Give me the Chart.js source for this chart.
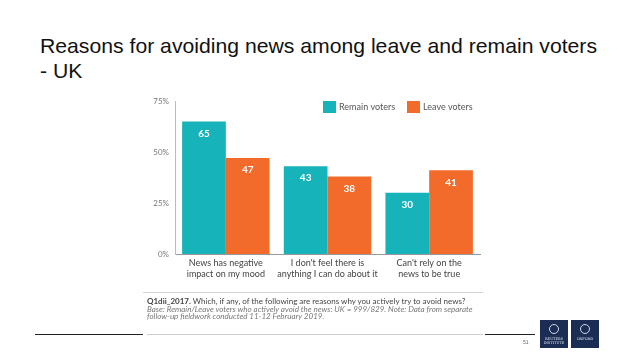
<!DOCTYPE html>
<html>
<head>
<meta charset="utf-8">
<script src="https://cdn.jsdelivr.net/npm/chart.js@4.4.1/dist/chart.umd.min.js"></script>
<style>
  html, body { margin: 0; padding: 0; background: #fff; }
  body { width: 638px; height: 359px; position: relative; overflow: hidden; font-family: "Liberation Sans", Arial, sans-serif; }
  #title { position: absolute; left: 40px; top: 33px; font-size: 21px; line-height: 25px; color: #111; white-space: nowrap; transform-origin: 0 0; }
  #wrap { position: absolute; left: 0; top: 0; width: 638px; height: 359px; }
  .line { position: absolute; height: 1px; }
  #note { position: absolute; left: 147px; top: 298px; font-family: Lato, "Open Sans", sans-serif; font-size: 8px; line-height: 7.5px; color: #444; white-space: nowrap; }
  #note i { color: #777; }
  #pnum { position: absolute; left: 523px; top: 339px; font-size: 5px; color: #666; }
  .logo { position: absolute; top: 320px; width: 28px; height: 28px; background: #1b2d55; color: #dfe4ee; font-family: "DejaVu Serif", serif; font-size: 3.5px; line-height: 4px; text-align: center; }
  .logo .crest { width: 8px; height: 8px; border-radius: 50%; border: 1px solid #cfd6e4; margin: 4px auto 3px; }
</style>
</head>
<body>
<div id="title"><span id="t1">Reasons for avoiding news among leave and remain voters</span><br>- UK</div>
<div class="line" style="left:35px; top:334px; width:500px; background:#222;"></div>
<div id="wrap"><canvas id="c" width="638" height="359"></canvas></div>
<div class="line" style="left:143px; top:292px; width:340px; background:#d4d4d4;"></div>
<div class="line" style="left:143px; top:333px; width:342px; height:3px; background:#fff;"></div>
<div class="line" style="left:147px; top:334px; width:336px; background:#cfcfcf;"></div>
<div id="note"><b>Q1dii_2017.</b> Which, if any, of the following are reasons why you actively try to avoid news?<br><i>Base: Remain/Leave voters who actively avoid the news: UK = 999/829. Note: Data from separate<br>follow-up fieldwork conducted 11-12 February 2019.</i></div>
<div id="pnum">51</div>
<div class="logo" style="left:540px;"><div class="crest"></div>REUTERS<br>INSTITUTE</div>
<div class="logo" style="left:571px;"><div class="crest"></div>OXFORD</div>
<script>
const categories = [
  ["News has negative", "impact on my mood"],
  ["I don't feel there is", "anything I can do about it"],
  ["Can't rely on the", "news to be true"]
];
const seriesNames = ["Remain voters", "Leave voters"];
const remainValues = [65, 43, 30];
const leaveValues = [47, 38, 41];
const yTicks = [0, 25, 50, 75];
const colors = ["#16b3bb", "#f26b2b"];

const FONT = "Lato, 'Open Sans', sans-serif";

// fit title's first line to the reference width
(function () {
  const w = document.getElementById("t1").getBoundingClientRect().width;
  if (w > 0) document.getElementById("title").style.transform = "scaleX(" + (557 / w) + ")";
})();

const valueLabels = {
  id: "valueLabels",
  afterDatasetsDraw(chart) {
    const ctx = chart.ctx;
    ctx.save();
    ctx.fillStyle = "#fff";
    ctx.font = "bold 10px " + FONT;
    ctx.textAlign = "center";
    ctx.textBaseline = "middle";
    chart.data.datasets.forEach((ds, i) => {
      chart.getDatasetMeta(i).data.forEach((bar, j) => {
        ctx.fillText(String(ds.data[j]), bar.x, bar.y + 12);
      });
    });
    ctx.restore();
  }
};

const customLegend = {
  id: "customLegend",
  afterDraw(chart) {
    const ctx = chart.ctx;
    ctx.save();
    ctx.font = "9px " + FONT;
    ctx.textBaseline = "middle";
    ctx.textAlign = "left";
    const starts = [323, 407];
    chart.data.datasets.forEach((ds, i) => {
      const x = starts[i];
      ctx.fillStyle = ds.backgroundColor;
      ctx.fillRect(x, 101, 13, 12);
      ctx.fillStyle = "#555";
      ctx.fillText(ds.label, x + 16, 107.5);
    });
    ctx.restore();
  }
};

new Chart(document.getElementById("c"), {
  type: "bar",
  data: {
    labels: categories,
    datasets: [
      { label: seriesNames[0], data: remainValues, backgroundColor: colors[0] },
      { label: seriesNames[1], data: leaveValues, backgroundColor: colors[1] }
    ]
  },
  options: {
    responsive: false,
    animation: false,
    events: [],
    layout: { padding: { left: 140, right: 158, top: 101, bottom: 75 } },
    plugins: { legend: { display: false }, tooltip: { enabled: false } },
    datasets: { bar: { categoryPercentage: 0.86, barPercentage: 1.0 } },
    scales: {
      x: {
        grid: { display: false, drawTicks: false },
        border: { display: true, color: "#999", width: 1 },
        ticks: { color: "#444", font: { family: FONT, size: 9 }, padding: 4, maxRotation: 0, autoSkip: false },
        afterFit(s) { s.height = 30; }
      },
      y: {
        min: 0, max: 75,
        grid: { display: false, drawTicks: false },
        border: { display: true, color: "#bbb", width: 1 },
        afterBuildTicks(s) { s.ticks = yTicks.map(v => ({ value: v })); },
        ticks: { color: "#777", font: { family: FONT, size: 8 }, padding: 6, callback: v => v + "%" },
        afterFit(s) { s.width = 35; }
      }
    }
  },
  plugins: [valueLabels, customLegend]
});
</script>
</body>
</html>
